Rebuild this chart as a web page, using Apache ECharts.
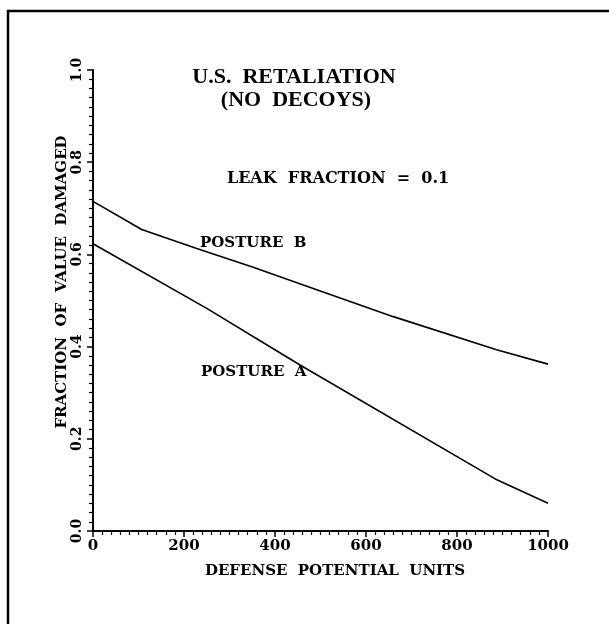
<!DOCTYPE html>
<html>
<head>
<meta charset="utf-8">
<script src="https://cdn.jsdelivr.net/npm/echarts@6/dist/echarts.min.js"></script>
<style>
  html, body { margin: 0; padding: 0; background: #fff; }
  #chart { width: 609px; height: 624px; }
</style>
</head>
<body>
<div id="chart"></div>
<script>
// values
const postureAUnits = [0, 250, 455, 884, 1000];
const postureAValues = [0.623, 0.483, 0.36, 0.113, 0.06];
const postureBUnits = [0, 107, 228, 352, 484, 660, 887, 1000];
const postureBValues = [0.715, 0.654, 0.613, 0.572, 0.526, 0.465, 0.393, 0.362];
const xTicks = [0, 200, 400, 600, 800, 1000];
const yTicks = [0.0, 0.2, 0.4, 0.6, 0.8, 1.0];

const heavy = "DejaVu Serif";
const chart = echarts.init(document.getElementById("chart"));

const pairs = (xs, ys) => xs.map((x, i) => [x, ys[i]]);

const option = {
  animation: false,
  backgroundColor: "#fff",
  grid: { left: 93, right: 61, top: 70, bottom: 93 },
  xAxis: {
    type: "value",
    min: xTicks[0],
    max: xTicks[xTicks.length - 1],
    interval: 200,
    axisLine: { lineStyle: { color: "#000", width: 2 } },
    axisTick: { length: 6, lineStyle: { color: "#000", width: 1.5 } },
    minorTick: { show: true, splitNumber: 10, length: 4, lineStyle: { color: "#000", width: 1.2 } },
    splitLine: { show: false },
    axisLabel: {
      margin: 8,
      color: "#000",
      fontFamily: heavy,
      fontWeight: "bold",
      fontSize: 15,
      formatter: (v) => String(v),
    },
  },
  yAxis: {
    type: "value",
    min: yTicks[0],
    max: yTicks[yTicks.length - 1],
    interval: 0.2,
    axisLine: { show: true, lineStyle: { color: "#000", width: 2 } },
    axisTick: { show: true, length: 6, lineStyle: { color: "#000", width: 1.5 } },
    minorTick: { show: true, splitNumber: 10, length: 4, lineStyle: { color: "#000", width: 1.2 } },
    splitLine: { show: false },
    axisLabel: {
      rotate: 90,
      margin: 9,
      color: "#000",
      fontFamily: heavy,
      fontWeight: "bold",
      fontSize: 14,
      formatter: (v) => v.toFixed(1),
    },
  },
  series: [
    {
      name: "POSTURE A",
      type: "line",
      data: pairs(postureAUnits, postureAValues),
      showSymbol: false,
      lineStyle: { color: "#000", width: 1.6 },
    },
    {
      name: "POSTURE B",
      type: "line",
      data: pairs(postureBUnits, postureBValues),
      showSymbol: false,
      lineStyle: { color: "#000", width: 1.6 },
    },
  ],
  graphic: [
    // scanned page frame
    {
      type: "rect",
      shape: { x: 8, y: 11, width: 640, height: 700 },
      style: { fill: null, stroke: "#000", lineWidth: 2.5 },
    },
    {
      type: "text",
      x: 294, y: 77,
      style: {
        text: "U.S.  RETALIATION",
        font: "bold 22px 'Liberation Serif'",
        fill: "#000", textAlign: "center", textVerticalAlign: "middle",
      },
    },
    {
      type: "text",
      x: 296, y: 100,
      style: {
        text: "(NO  DECOYS)",
        font: "bold 22px 'Liberation Serif'",
        fill: "#000", textAlign: "center", textVerticalAlign: "middle",
      },
    },
    {
      type: "text",
      x: 338, y: 179,
      style: {
        text: "LEAK  FRACTION  =  0.1",
        font: "bold 16px 'DejaVu Serif'",
        fill: "#000", textAlign: "center", textVerticalAlign: "middle",
      },
    },
    {
      type: "text",
      x: 200, y: 243,
      style: {
        text: "POSTURE  B",
        font: "bold 15px 'DejaVu Serif'",
        fill: "#000", textAlign: "left", textVerticalAlign: "middle",
      },
    },
    {
      type: "text",
      x: 201, y: 372,
      style: {
        text: "POSTURE  A",
        font: "bold 15px 'DejaVu Serif'",
        fill: "#000", textAlign: "left", textVerticalAlign: "middle",
      },
    },
    {
      type: "text",
      x: 335, y: 571,
      style: {
        text: "DEFENSE  POTENTIAL  UNITS",
        font: "bold 15px 'DejaVu Serif'",
        fill: "#000", textAlign: "center", textVerticalAlign: "middle",
      },
    },
    {
      type: "text",
      x: 62, y: 282,
      rotation: Math.PI / 2,
      style: {
        text: "FRACTION  OF  VALUE  DAMAGED",
        font: "bold 15px 'DejaVu Serif'",
        fill: "#000", textAlign: "center", textVerticalAlign: "middle",
      },
    },
  ],
};

chart.setOption(option);
</script>
</body>
</html>
